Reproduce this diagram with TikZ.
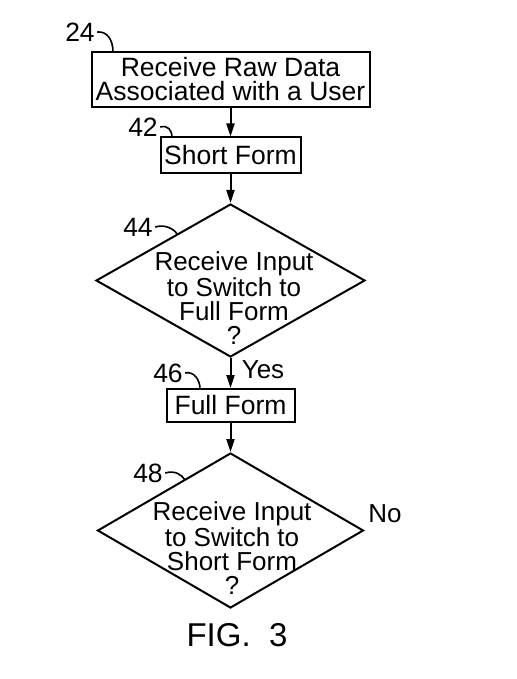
\documentclass[tikz,border=0pt]{standalone}
\usepackage{fontspec}
\setmainfont{Liberation Sans}
\usetikzlibrary{shapes.geometric,arrows.meta}

\begin{document}
\begin{tikzpicture}[x=1pt,y=-1pt,line width=2pt,
    stepbox/.style={rectangle, draw=black, inner sep=0pt, align=center,
        font=\fontsize{26.5}{24}\selectfont},
    decision/.style={diamond, draw=black, inner sep=0pt},
    qtext/.style={align=center, inner sep=0pt, font=\fontsize{26}{24}\selectfont},
    reflabel/.style={inner sep=1.5pt, font=\fontsize{26.5}{26}\selectfont},
    flow/.style={-{Triangle[length=13pt,width=8pt]}},
    leader/.style={line width=1.6pt}]
\useasboundingbox (0,0) rectangle (516,679);

% steps
\node[stepbox, minimum width=278pt, minimum height=55pt] (b24) at (230.5,79.5)
    {Receive Raw Data\\Associated with a User};
\node[stepbox, minimum width=140pt, minimum height=35pt] (b42) at (230.5,155) {Short Form};
\node[decision, minimum width=269pt, minimum height=153pt] (q44) at (230.5,280.5) {};
\node[qtext] at (234,298) {Receive Input\\to Switch to\\Full Form\\?};
\node[stepbox, minimum width=128pt, minimum height=33pt] (b46) at (230.5,405.5) {Full Form};
\node[decision, minimum width=266pt, minimum height=155pt] (q48) at (230.5,530.5) {};
\node[qtext] at (232,548) {Receive Input\\to Switch to\\Short Form\\?};

% flow
\draw[flow] (b24) -- (b42);
\draw[flow] (b42) -- (q44);
\draw[flow] (q44) -- (b46);
\draw[flow] (b46) -- (q48);
\node[qtext] (yes) at (263,370) {Yes};
\node[qtext] (no) at (385,514) {No};

% reference numerals
\node[reflabel] (l24) at (80,32) {24};
\node[reflabel] (l42) at (143,127) {42};
\node[reflabel] (l44) at (138,227) {44};
\node[reflabel] (l46) at (168,373) {46};
\node[reflabel] (l48) at (148,473) {48};
\coordinate (t24) at (113,52);
\coordinate (t42) at (172,138);
\coordinate (t44) at (177,234);
\coordinate (t46) at (200,389);
\coordinate (t48) at (185,480);
\draw[leader] (l24.east) .. controls +(10,-1) and +(0,-12) .. (t24);
\draw[leader] (l42.east) .. controls +(8,-2) and +(0,-8) .. (t42);
\draw[leader] (l44.east) .. controls +(10,-3) and +(-3,-5) .. (t44);
\draw[leader] (l46.east) .. controls +(8,-2) and +(0,-10) .. (t46);
\draw[leader] (l48.east) .. controls +(10,-3) and +(-3,-5) .. (t48);

\node[font=\fontsize{33}{33}\selectfont] (fig) at (237,635) {FIG.\ \ 3};
\end{tikzpicture}
\end{document}
